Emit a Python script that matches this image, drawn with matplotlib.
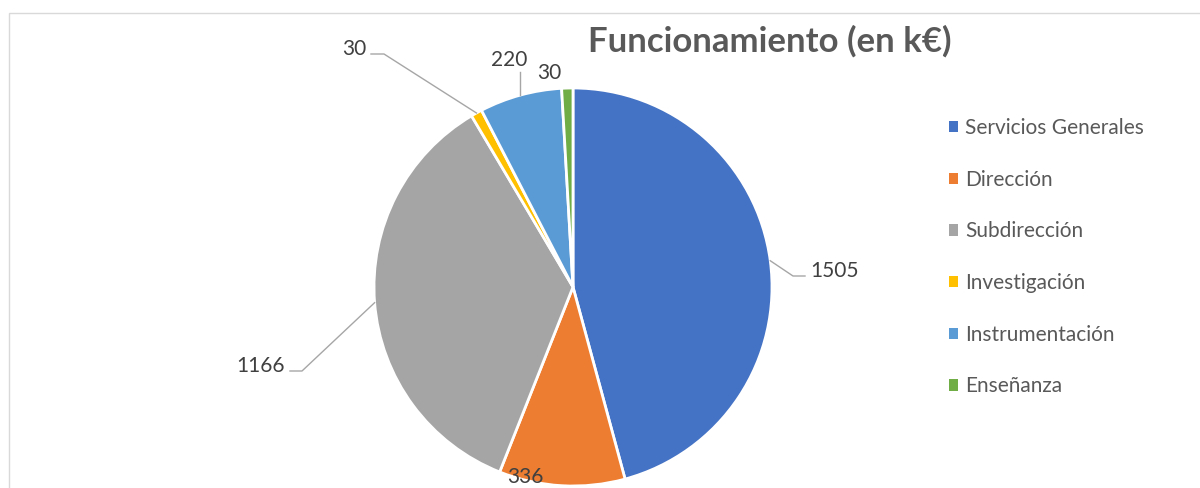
import matplotlib
matplotlib.use("Agg")
import matplotlib.pyplot as plt
import numpy as np
from matplotlib.patches import Patch, Rectangle

# ---- data ----
categories = ["Servicios Generales", "Dirección", "Subdirección",
              "Investigación", "Instrumentación", "Enseñanza"]
values = [1505, 336, 1166, 30, 220, 30]
colors = ["#4472C4", "#ED7D31", "#A5A5A5", "#FFC000", "#5B9BD5", "#70AD47"]
title = "Funcionamiento (en k€)"

# ---- layout (pixel coordinates, y measured from top) ----
W, H = 1200, 488
plt.rcParams['font.family'] = ['Lato', 'DejaVu Sans']
fig = plt.figure(figsize=(W / 100, H / 100), dpi=100)
ax = fig.add_axes([0, 0, 1, 1])

def Y(py):
    return H - py

cx, cy, R = 573, 287, 199
wedges, _ = ax.pie(values, colors=colors, startangle=90, counterclock=False,
                   center=(cx, Y(cy)), radius=R,
                   wedgeprops=dict(edgecolor="white", linewidth=2))
ax.set_xlim(0, W)
ax.set_ylim(0, H)
ax.set_aspect("equal")
ax.axis("off")

# frame of the chart area
ax.add_patch(Rectangle((9, -20), W, Y(13) + 20, fill=False,
                       edgecolor="#D9D9D9", linewidth=1, clip_on=False))

# data labels: text anchor (x, baseline y), alignment, leader elbow points
label_layout = [
    dict(pos=(810, 277), ha="left", path=[(793, 276), (805, 276)]),
    dict(pos=(525, 483), ha="center", path=None),
    dict(pos=(285, 372), ha="right", path=[(302, 371), (290, 371)]),
    dict(pos=(366, 55), ha="right", path=[(384, 54), (371, 54)]),
    dict(pos=(509, 66), ha="center", path="vertical"),
    dict(pos=(549, 79), ha="center", path=None),
]
lead_color = "#A6A6A6"
for w, v, lay in zip(wedges, values, label_layout):
    mid = np.deg2rad((w.theta1 + w.theta2) / 2)
    sx = cx + R * np.cos(mid)
    sy = Y(cy) + R * np.sin(mid)
    if lay["path"] == "vertical":
        ax.plot([sx, sx], [sy, Y(72)], color=lead_color, lw=1)
    elif lay["path"]:
        xs = [sx] + [p[0] for p in lay["path"]]
        ys = [sy] + [Y(p[1]) for p in lay["path"]]
        ax.plot(xs, ys, color=lead_color, lw=1)
    ax.text(lay["pos"][0], Y(lay["pos"][1]), str(v), ha=lay["ha"],
            va="baseline", fontsize=15, color="#404040")

# title
ax.text(770, Y(52), title, ha="center", va="baseline", fontsize=25,
        fontweight="bold", color="#595959")

# legend
handles = [Patch(facecolor=c, edgecolor="none") for c in colors]
ax.legend(handles, categories, loc="upper left",
          bbox_to_anchor=(949 / W, 1 - 118 / H), bbox_transform=fig.transFigure,
          frameon=False, fontsize=15, handlelength=0.45, handleheight=0.45,
          handletextpad=0.32, labelspacing=1.52, borderpad=0, borderaxespad=0,
          labelcolor="#595959")

fig.savefig("out.png", dpi=100)
